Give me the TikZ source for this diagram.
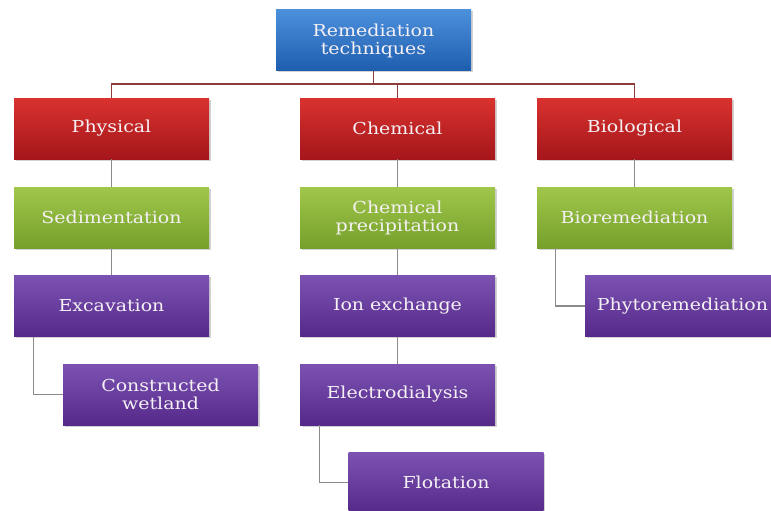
\documentclass[tikz,border=0pt]{standalone}
\usepackage{fontspec}
\setmainfont[FakeStretch=1.15]{DejaVu Serif}
\usetikzlibrary{shadows}
\definecolor{bluetop}{HTML}{4C90DC}
\definecolor{bluebot}{HTML}{1E5DAE}
\definecolor{redtop}{HTML}{D9322F}
\definecolor{redbot}{HTML}{A5161B}
\definecolor{greentop}{HTML}{A0C74A}
\definecolor{greenbot}{HTML}{76A02C}
\definecolor{purptop}{HTML}{7B52B2}
\definecolor{purpbot}{HTML}{55298A}
\definecolor{txt}{HTML}{F4F0F4}
\definecolor{rootline}{HTML}{8E3B3B}
\definecolor{greyline}{HTML}{8A8A8A}
\tikzset{
  box/.style={rectangle, minimum width=195pt, minimum height=61pt, inner sep=2pt,
    align=center, text=txt, font=\fontsize{16.5}{18}\selectfont,
    drop shadow={shadow xshift=1.5pt, shadow yshift=-1.5pt, opacity=0.35}},
  bluebox/.style={box, top color=bluetop, bottom color=bluebot},
  redbox/.style={box, top color=redtop, bottom color=redbot},
  greenbox/.style={box, top color=greentop, bottom color=greenbot},
  purpbox/.style={box, top color=purptop, bottom color=purpbot},
  rootconn/.style={draw=rootline, line width=1.8pt},
  conn/.style={draw=greyline, line width=1.8pt}
}
\begin{document}
\begin{tikzpicture}[x=1pt,y=-1pt]
\useasboundingbox (0,0) rectangle (771,511);
\fill[white] (0,0) rectangle (771,511);
\node[bluebox] (root) at (373.5,40.5) {Remediation\\techniques};
\node[redbox] (phys) at (111.5,128.5) {Physical};
\node[redbox] (chem) at (397.5,128.5) {Chemical};
\node[redbox] (bio) at (634.5,128.5) {Biological};
\node[greenbox] (sed) at (111.5,217.5) {Sedimentation};
\node[greenbox] (prec) at (397.5,217.5) {Chemical\\precipitation};
\node[greenbox] (biorem) at (634.5,217.5) {Bioremediation};
\node[purpbox] (exc) at (111.5,306) {Excavation};
\node[purpbox] (ion) at (397.5,306) {Ion exchange};
\node[purpbox] (phyto) at (682.5,306) {Phytoremediation};
\node[purpbox] (wet) at (160.5,394.5) {Constructed\\wetland};
\node[purpbox] (elec) at (397.5,394.5) {Electrodialysis};
\node[purpbox] (flot) at (446,482.5) {Flotation};
% connectors
\draw[rootconn] (root.south) -- ++(0,13) coordinate (rj) -| (phys.north);
\draw[rootconn] (rj) -| (chem.north);
\draw[rootconn] (rj) -| (bio.north);
\draw[conn] (phys.south) -- (sed.north);
\draw[conn] (sed.south) -- (exc.north);
\draw[conn] (chem.south) -- (prec.north);
\draw[conn] (prec.south) -- (ion.north);
\draw[conn] (ion.south) -- (elec.north);
\draw[conn] (bio.south) -- (biorem.north);
\draw[conn] ([xshift=-78pt]exc.south) |- (wet.west);
\draw[conn] ([xshift=-78pt]elec.south) |- (flot.west);
\draw[conn] ([xshift=-79pt]biorem.south) |- (phyto.west);
\end{tikzpicture}
\end{document}
